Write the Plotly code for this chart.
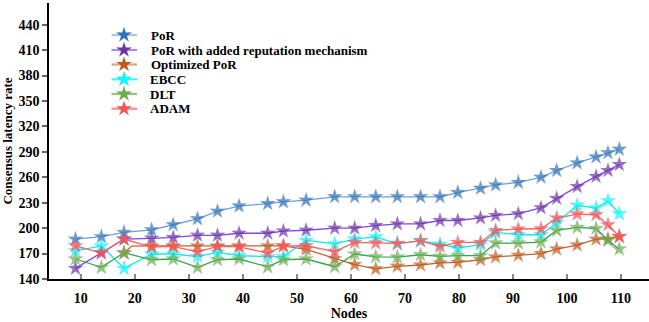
import plotly.graph_objects as go

# ---------------- data ----------------
nodes = [9, 13.8, 18, 23.1, 27.1, 31.6, 35.3, 39.3, 44.6, 47.5, 51.7, 57, 60.7, 64.6,
         68.6, 72.9, 76.5, 79.8, 84, 86.8, 91, 95.2, 98.1, 101.9, 105.4, 107.6, 109.7]
nodes_opt = [18, 19.4, 23.1, 27.1, 31.6, 35.3, 39.3, 44.6, 47.5, 51.7, 57, 60.7, 64.6,
             68.6, 72.9, 76.5, 79.8, 84, 86.8, 91, 95.2, 98.1, 101.9, 105.4, 107.6, 109.7]

por = [187, 190, 195, 198, 204, 211, 220, 226, 229, 231, 233, 237, 237, 237,
       237, 237, 237, 242, 247, 251, 254, 260, 268, 277, 284, 289, 293]
por_rep = [152.5, 171, 187, 188, 189, 191.5, 191.5, 194, 194, 196.5, 197.5, 200, 200, 203,
           205, 205, 209, 209, 212, 215, 217, 224, 235, 249, 261, 268, 275]
opt_por = [170.6, 178.8, 179, 179, 179, 179, 179, 179, 179, 175, 164, 157, 152,
           155, 156.5, 159, 159.6, 162.7, 166, 168, 170, 175.3, 180, 187, 187, 190]
ebcc = [173.3, 179, 152.5, 169.5, 169.5, 166.5, 171.5, 167.5, 166.4, 166.4, 185.5, 181.4, 187.1, 189.6,
        181.5, 185, 181, 176.5, 180.4, 195, 192.2, 192.2, 206.3, 227, 223.7, 232.3, 217]
dlt = [163.6, 153.7, 171, 162.7, 163.6, 153.7, 162.7, 163.6, 154.3, 162.7, 163.6, 154.5, 169.5, 166.2,
       165.9, 168.6, 166.6, 167.5, 167.5, 182.4, 182.4, 183.6, 197.3, 200.8, 199.6, 185.5, 175.3]
adam = [179.2, 170.6, 187.1, 177.7, 178.4, 172, 178.4, 178, 170.6, 178.8, 179.2, 172.3, 183.1, 182.4,
        182, 185, 178.4, 183.1, 183.1, 197.3, 199, 199.3, 211.9, 216.6, 215.8, 204, 190.2]

names = ["PoR", "PoR with added reputation mechanism", "Optimized PoR", "EBCC", "DLT", "ADAM"]
x_tick_vals = [10, 20, 30, 40, 50, 60, 70, 80, 90, 100, 110]
y_tick_vals = [140, 170, 200, 230, 260, 290, 320, 350, 380, 410, 440]

# ---------------- style ----------------
marker_colors = ["#2E72B4", "#7030A0", "#C55A11", "#00FFFF", "#70AD47", "#FF5050"]
line_colors = ["#6FA0D8", "#7F45F0", "#C8622A", "#10E8F0", "#2EAA4A", "#FF6262"]
legend_line_colors = ["#A6C6E8", "#A98BF5", "#DDA27F", "#40F5F5", "#93C47D", "#FF8A8A"]
FONT = "Liberation Serif"

series = [
    (nodes, por), (nodes, por_rep), (nodes_opt, opt_por),
    (nodes, ebcc), (nodes, dlt), (nodes, adam),
]

fig = go.Figure()
for i, (xs, ys) in enumerate(series):
    sizes = [11.5] * len(xs)
    if i == 2:
        sizes[1] = 0  # bend point without visible marker
    fig.add_trace(go.Scatter(
        x=xs, y=ys, mode="lines+markers", name=names[i], showlegend=False,
        line=dict(color=line_colors[i], width=1.3),
        marker=dict(symbol="star", size=sizes, color=marker_colors[i],
                    line=dict(color="rgba(120,150,200,0.35)", width=0.6)),
    ))

# ---------------- manual legend (pixel-like overlay axes) ----------------
leg_y = [35, 50, 64.5, 79.3, 94, 108.7]
leg_line_x0, leg_line_x1, leg_star_x, leg_text_x = 111.5, 137, 124, 147.5
fig.add_trace(go.Scatter(
    x=[leg_star_x] * 6, y=leg_y, mode="markers", xaxis="x2", yaxis="y2", showlegend=False,
    hoverinfo="skip",
    marker=dict(symbol="star", size=11.5, color=marker_colors,
                line=dict(color="rgba(120,150,200,0.35)", width=0.6)),
))
shapes = []
annotations = []
for i in range(6):
    shapes.append(dict(type="line", xref="x2", yref="y2", x0=leg_line_x0, x1=leg_line_x1,
                       y0=leg_y[i], y1=leg_y[i], line=dict(color=legend_line_colors[i], width=2.2),
                       layer="below"))
    annotations.append(dict(xref="x2", yref="y2", x=leg_text_x + (1.5 if i < 3 else 0), y=leg_y[i],
                            text=names[i], showarrow=False, xanchor="left", yanchor="middle",
                            font=dict(family=FONT, size=13, color="black", weight="bold")))

fig.update_layout(
    width=649, height=322,
    margin=dict(l=49, r=0, t=3, b=43),
    paper_bgcolor="white", plot_bgcolor="white",
    font=dict(family=FONT, size=14, color="black", weight="bold"),
    shapes=shapes, annotations=annotations,
    xaxis=dict(
        range=[4.1, 115.2], tickvals=x_tick_vals, ticks="inside", ticklen=5, tickwidth=1.5,
        tickcolor="#888888", showline=True, linecolor="black", linewidth=1.5,
        showgrid=False, zeroline=False, ticklabelstandoff=5,
        tickfont=dict(family=FONT, size=14, color="black", weight="bold"),
        title=dict(text="Nodes", font=dict(family=FONT, size=14, color="black", weight="bold"),
                   standoff=4),
    ),
    yaxis=dict(
        range=[140, 465.6], tickvals=y_tick_vals, ticks="outside", ticklen=5, tickwidth=1.5,
        tickcolor="#666666", showline=True, linecolor="black", linewidth=1.5,
        showgrid=False, zeroline=False,
        tickfont=dict(family=FONT, size=14, color="black", weight="bold"),
        title=dict(text="Consensus latency rate",
                   font=dict(family=FONT, size=13, color="black", weight="bold"), standoff=4),
    ),
    xaxis2=dict(overlaying="x", range=[49, 649], visible=False, domain=[0, 1]),
    yaxis2=dict(overlaying="y", range=[279, 3], visible=False),
)

fig.write_html("out.html")
